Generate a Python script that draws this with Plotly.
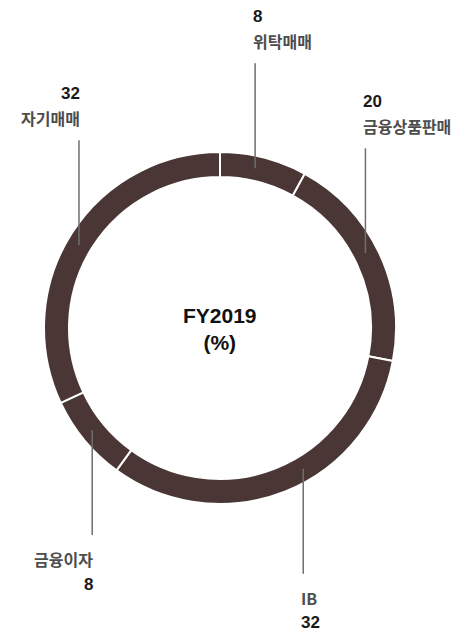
import math
import plotly.graph_objects as go

# ---- data ----
labels = ["위탁매매", "금융상품판매", "IB", "금융이자", "자기매매"]
values = [8, 20, 32, 8, 32]
center_lines = ["FY2019", "(%)"]

# ---- style / layout ----
W, H = 470, 634
ring_color = "#4a3735"
num_color = "#1a1a1a"
name_color = "#4d4d4d"
line_color = "#6e6e6e"
font_family = "Liberation Sans, Arial, Noto Sans CJK KR, sans-serif"
kr_family = "Noto Sans CJK KR, Liberation Sans, sans-serif"

cx_px, cy_px, R_px = 220, 328, 176
hole = 0.858
dom_x = [(cx_px - R_px) / W, (cx_px + R_px) / W]
dom_y = [1 - (cy_px + R_px) / H, 1 - (cy_px - R_px) / H]

label_nudge_deg = [-2, -2, -9, 1, -2]  # small placement tweaks for leaders
leader_len = 105

fig = go.Figure(go.Pie(
    labels=labels, values=values, hole=hole, sort=False, direction="clockwise",
    rotation=0, textinfo="none", hoverinfo="label+value",
    marker=dict(colors=[ring_color] * len(values), line=dict(color="white", width=2)),
    domain=dict(x=dom_x, y=dom_y), showlegend=False,
))

def px2paper(x, y):
    return x / W, 1 - y / H

shapes, annotations = [], []
total = sum(values)
cum = 0
r_mid = R_px * (1 + hole) / 2
for i, (lab, v) in enumerate(zip(labels, values)):
    mid = (cum + v / 2) / total * 360 + label_nudge_deg[i]
    cum += v
    a = math.radians(mid)
    x0 = cx_px + r_mid * math.sin(a)
    y0 = cy_px - r_mid * math.cos(a)
    up = y0 < cy_px
    y1 = y0 - leader_len if up else y0 + leader_len
    px0, py0 = px2paper(x0, y0)
    px1, py1 = px2paper(x0, y1)
    shapes.append(dict(type="line", xref="paper", yref="paper", x0=px0, y0=py0, x1=px1, y1=py1,
                       line=dict(color=line_color, width=1.5)))
    left_side = x0 < cx_px
    xanchor = "right" if left_side else "left"
    tx = x0 + 3 if left_side else x0 - 4
    if up:
        y_name, y_num = y1 - 22, y1 - 47
    else:
        y_name, y_num = y1 + 24, y1 + 49
    for txt, yy, col, fam, size in [(lab, y_name, name_color, kr_family, 16),
                                    (str(v), y_num, num_color, font_family, 17)]:
        ax_, ay_ = px2paper(tx, yy)
        annotations.append(dict(
            text=f"<b>{txt}</b>", x=ax_, y=ay_, xref="paper", yref="paper",
            xanchor=xanchor, yanchor="middle", showarrow=False,
            font=dict(family=fam, size=size, color=col)))

ccx, ccy = px2paper(cx_px, cy_px + 1)
annotations.append(dict(
    text="<b>" + "<br>".join(center_lines) + "</b>", x=ccx, y=ccy, xref="paper", yref="paper",
    xanchor="center", yanchor="middle", showarrow=False, align="center",
    font=dict(family=font_family, size=21, color="#111111")))

fig.update_layout(
    width=W, height=H, margin=dict(l=0, r=0, t=0, b=0),
    paper_bgcolor="white", plot_bgcolor="white",
    shapes=shapes, annotations=annotations,
)

fig.write_html(
    "out.html",
    config={"displayModeBar": False},
    post_script="document.body.style.margin='0';document.body.style.overflow='hidden';",
)
